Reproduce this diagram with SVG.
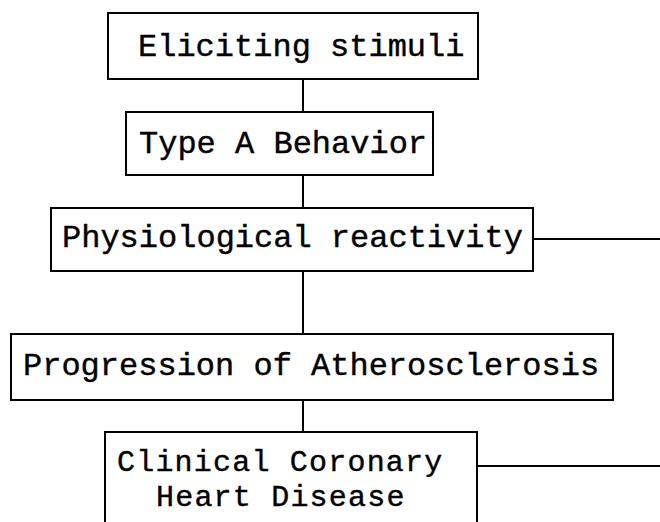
<svg xmlns="http://www.w3.org/2000/svg" width="660" height="522" viewBox="0 0 660 522">
<style>
.box{fill:#fff;stroke:#000;stroke-width:2}
.lbl{font-family:"Liberation Mono","Courier New",monospace;font-size:32px;fill:#000;stroke:#000;stroke-width:0.4}
.lbl2{font-size:30px;letter-spacing:1.2px}
.conn{fill:none;stroke:#000;stroke-width:2}
</style>
<rect width="660" height="522" fill="#fff"/>
<g id="connectors">
<line class="conn" x1="303" y1="79" x2="303" y2="112"/>
<line class="conn" x1="303" y1="175" x2="303" y2="208"/>
<line class="conn" x1="303" y1="271" x2="303" y2="334"/>
<line class="conn" x1="303" y1="400" x2="303" y2="432"/>
<line class="conn" x1="533" y1="239" x2="660" y2="239"/>
<line class="conn" x1="477" y1="466" x2="660" y2="466"/>
</g>
<g id="node-eliciting">
<rect class="box" x="108" y="13" width="370" height="66"/>
<text class="lbl" x="138" y="56">Eliciting stimuli</text>
</g>
<g id="node-typeA">
<rect class="box" x="126" y="112" width="307" height="63"/>
<text class="lbl" x="139" y="153">Type A Behavior</text>
</g>
<g id="node-physio">
<rect class="box" x="51" y="208" width="482" height="63"/>
<text class="lbl" x="62" y="247">Physiological reactivity</text>
</g>
<g id="node-progression">
<rect class="box" x="11" y="334" width="602" height="66"/>
<text class="lbl" x="23" y="375">Progression of Atherosclerosis</text>
</g>
<g id="node-chd">
<rect class="box" x="105" y="432" width="372" height="110"/>
<text class="lbl lbl2" x="117" y="471">Clinical Coronary</text>
<text class="lbl lbl2" x="156" y="506">Heart Disease</text>
</g>
</svg>
